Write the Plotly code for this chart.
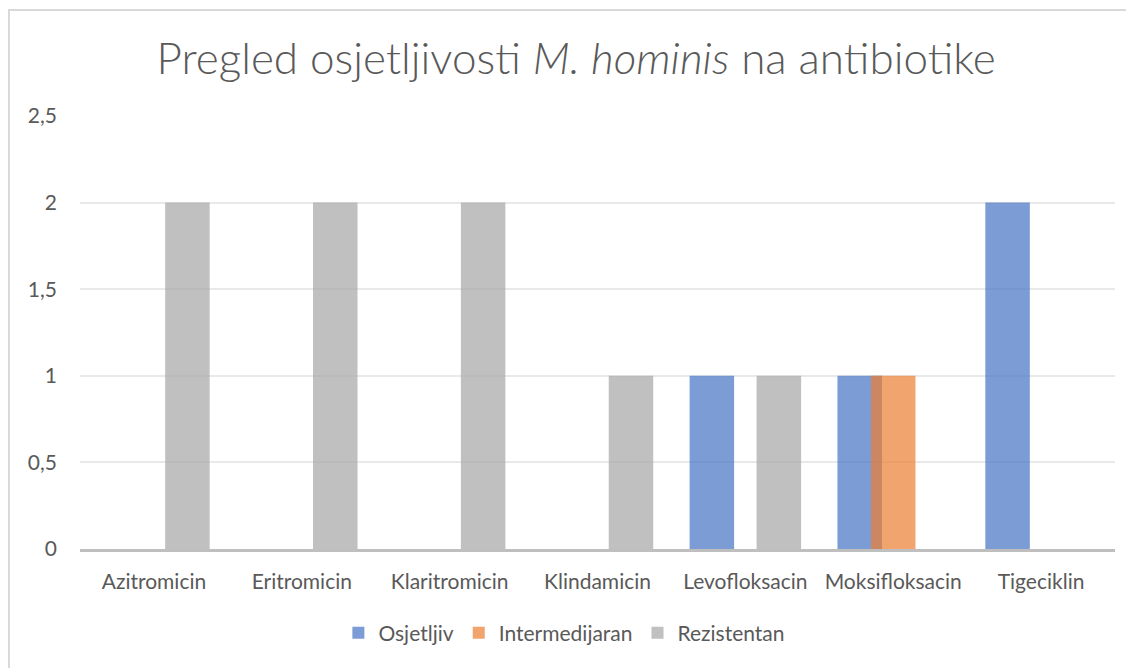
import plotly.graph_objs as go

antibiotici = ['Azitromicin', 'Eritromicin', 'Klaritromicin', 'Klindamicin',
               'Levofloksacin', 'Moksifloksacin', 'Tigeciklin']
osjetljiv = [0, 0, 0, 0, 1, 1, 2]
intermedijaran = [0, 0, 0, 0, 0, 1, 0]
rezistentan = [2, 2, 2, 1, 1, 0, 0]

font = 'Lato, "Open Sans", sans-serif'
grey_text = '#595959'

# excel style: bars overlap a bit, drawn with transparency
bar_w = 0.301
series = [
    ('Osjetljiv', osjetljiv, 'rgba(68,114,196,0.7)', -0.377),
    ('Intermedijaran', intermedijaran, 'rgba(237,125,49,0.7)', -0.1505),
    ('Rezistentan', rezistentan, 'rgba(165,165,165,0.7)', 0.076),
]

fig = go.Figure()
for name, vals, col, off in series:
    fig.add_trace(go.Bar(x=antibiotici, y=vals, name=name,
                         marker=dict(color=col, line=dict(width=0)),
                         width=bar_w, offset=off))

fig.update_layout(
    width=1134, height=668,
    barmode='overlay',
    separators=', ',
    paper_bgcolor='white', plot_bgcolor='white',
    margin=dict(l=72, r=27, t=108, b=127),
    font=dict(family=font, color=grey_text, size=21),
    title=dict(text='Pregled osjetljivosti <i>M. hominis</i> na antibiotike',
               x=0.501, xanchor='center', y=0.925, yanchor='middle',
               font=dict(family=font, size=44, color=grey_text, weight=300)),
    legend=dict(orientation='h', x=0.468, xanchor='center', y=-0.194, yanchor='middle',
                font=dict(size=21, color=grey_text), itemwidth=30),
    showlegend=True,
)
fig.update_xaxes(showline=True, linecolor='#bfbfbf', linewidth=3, showgrid=False,
                 ticks='', ticklabelstandoff=12, tickfont=dict(size=21, color=grey_text))
fig.update_yaxes(range=[0, 2.5], dtick=0.5, showgrid=True, gridcolor='#e9e9e9', gridwidth=1.5,
                 zeroline=False, showline=False, ticks='', ticklabelstandoff=22,
                 tickfont=dict(size=21, color=grey_text))

# outer chart border
fig.add_shape(type='rect', xref='paper', yref='paper',
              x0=-0.0686, x1=1.2, y0=-0.40, y1=1.2448,
              line=dict(color='#d9d9d9', width=2), fillcolor='rgba(0,0,0,0)', layer='below')

fig.write_html('out.html')
